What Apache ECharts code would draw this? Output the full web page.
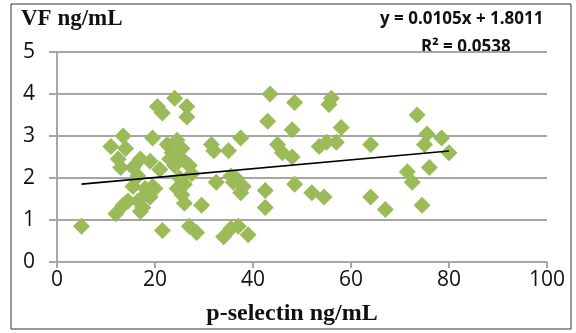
<!DOCTYPE html>
<html>
<head>
<meta charset="utf-8">
<script src="https://cdn.jsdelivr.net/npm/echarts@6/dist/echarts.min.js"></script>
<style>
  html, body { margin: 0; padding: 0; background: #fff; }
  #output { width: 576px; height: 333px; }
</style>
</head>
<body>
<div id="output"></div>
<script>
const chart = echarts.init(document.getElementById('output'));

// p-selectin (x) vs VF (y)
const pSelectin = [
  5, 11, 12, 12.5, 13, 13.5, 13.5, 14, 14.5, 15.5, 15.5, 16.5, 16.5, 17, 17, 17.5,
  18, 18, 19, 19, 19.5, 19.5, 20, 20.5, 21, 21.5, 21.5, 22.5, 23, 23.5, 24, 24,
  24.5, 24.5, 25, 25.5, 25.5, 25.5, 26, 26, 26.5, 26.5, 27, 27, 27.5, 28.5, 29.5,
  31.5, 32, 32.5, 34, 35, 35.5, 35.5, 36, 36.5, 37.5, 37.5, 37, 38, 39, 42.5, 42.5,
  43, 43.5, 45, 46, 48, 48, 48.5, 48.5, 52, 53.5, 54.5, 55, 55.5, 56, 57, 58, 64,
  64, 67, 71.5, 72.5, 73.5, 74.5, 75, 75.5, 76, 78.5, 80
]
const vf = [
  0.85, 2.75, 1.15, 2.45, 2.25, 3.0, 1.35, 2.7, 1.45, 2.25, 1.8, 2.05, 1.45, 2.45, 1.2, 1.3,
  1.6, 1.75, 2.4, 1.55, 1.8, 2.95, 1.75, 3.7, 2.2, 3.55, 0.75, 2.8, 2.45, 2.6, 3.9, 2.3,
  1.75, 2.9, 2.0, 1.6, 2.45, 2.7, 1.4, 1.85, 3.7, 3.45, 2.3, 0.85, 2.1, 0.7, 1.35,
  2.8, 2.65, 1.9, 0.6, 2.65, 2.05, 0.8, 1.9, 2.0, 2.95, 1.65, 0.85, 1.8, 0.65, 1.7, 1.3,
  3.35, 4.0, 2.8, 2.6, 3.15, 2.5, 3.8, 1.85, 1.65, 2.75, 1.55, 2.85, 3.75, 3.9, 2.85, 3.2, 1.55,
  2.8, 1.25, 2.15, 1.9, 3.5, 1.35, 2.8, 3.05, 2.25, 2.95, 2.6
]

// linear trend as printed on the chart
const slope = 0.0105
const intercept = 1.8011
const trendX = [5, 80]

const xTicks = [0, 20, 40, 60, 80, 100]
const yTicks = [0, 1, 2, 3, 4, 5]

const points = pSelectin.map((x, i) => [x, vf[i]])
const trend = trendX.map(x => [x, slope * x + intercept])

const gridColor = '#a6a6a6'
const labelFont = { color: '#111', fontSize: 21, fontFamily: 'Open Sans' }

chart.setOption({
  animation: false,
  grid: { left: 57, right: 29, top: 52, bottom: 71 },
  xAxis: {
    type: 'value',
    min: xTicks[0],
    max: xTicks[xTicks.length - 1],
    interval: 20,
    name: 'p-selectin ng/mL',
    nameLocation: 'middle',
    nameGap: 40,
    nameTextStyle: {
      fontFamily: 'Liberation Serif', fontWeight: 'bold', fontSize: 24, color: '#111',
      padding: [0, 20, 0, 0]
    },
    axisLine: { lineStyle: { color: gridColor, width: 2 } },
    axisTick: { show: true, length: 6, lineStyle: { color: gridColor, width: 2 } },
    axisLabel: Object.assign({ margin: 8 }, labelFont),
    splitLine: { show: false }
  },
  yAxis: {
    type: 'value',
    min: yTicks[0],
    max: yTicks[yTicks.length - 1],
    interval: 1,
    axisLine: { show: true, lineStyle: { color: gridColor, width: 2 } },
    axisTick: { show: true, length: 8, lineStyle: { color: gridColor, width: 2 } },
    axisLabel: Object.assign({ margin: 22 }, labelFont),
    splitLine: { lineStyle: { color: gridColor, width: 2 } }
  },
  graphic: [
    {
      type: 'rect',
      shape: { x: 11, y: 4, width: 560, height: 325 },
      style: { fill: 'none', stroke: '#333', lineWidth: 1 },
      silent: true
    },
    {
      type: 'text', left: 21, top: 8,
      style: { text: 'VF ng/mL', font: 'bold 23px "Liberation Serif"', fill: '#111' }
    },
    {
      type: 'text', left: 380, top: 11,
      style: { text: 'y = 0.0105x + 1.8011', font: 'bold 17px "Open Sans"', fill: '#111' }
    },
    {
      type: 'text', left: 421, top: 39,
      style: { text: 'R² = 0.0538', font: 'bold 17px "Open Sans"', fill: '#111' }
    }
  ],
  series: [
    {
      type: 'scatter',
      data: points,
      symbol: 'diamond',
      symbolSize: 17,
      itemStyle: { color: '#9bbb59', opacity: 1 }
    },
    {
      type: 'line',
      data: trend,
      symbol: 'none',
      lineStyle: { color: '#000', width: 1.6 },
      z: 3
    }
  ]
})
</script>
</body>
</html>
